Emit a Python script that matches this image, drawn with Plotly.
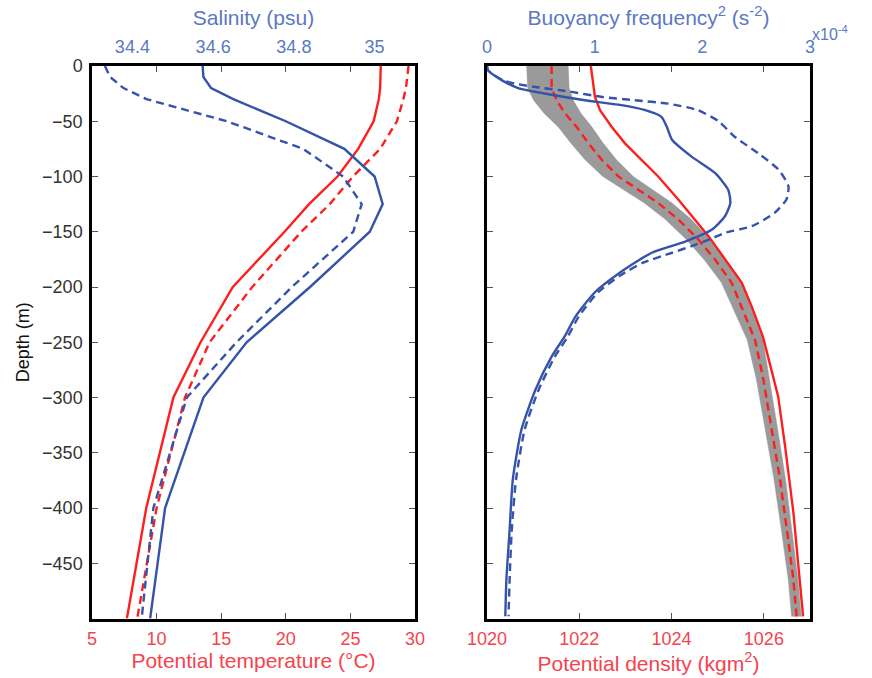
import plotly.graph_objects as go

# ---------------- Left panel: temperature & salinity profiles ----------------
std_depth = [0, -10, -20, -30, -50, -75, -100, -125, -150, -200, -250, -300, -400, -500]

temp_solid = [27.35, 27.35, 27.3, 27.2, 26.8, 25.6, 24.0, 21.8, 19.9, 15.9, 13.4, 11.3, 9.2, 7.7]
temp_dashed = [29.5, 29.4, 29.3, 29.1, 28.6, 27.3, 25.2, 23.4, 21.2, 17.4, 14.1, 12.2, 10.0, 8.5]

sal_solid = [34.574, 34.576, 34.595, 34.65, 34.78, 34.925, 35.0, 35.02, 34.988, 34.84, 34.683,
             34.576, 34.481, 34.444]
sal_dashed = [34.332, 34.345, 34.378, 34.435, 34.634, 34.823, 34.922, 34.968, 34.947, 34.795,
              34.658, 34.535, 34.452, 34.423]

# ---------------- Right panel: density & buoyancy frequency ----------------
rho_solid_depth = [0, -13, -28, -40, -55, -70, -85, -100, -121, -139, -154, -175, -196, -218,
                   -245, -299, -344, -404, -450, -498]
rho_solid = [1022.25, 1022.29, 1022.34, 1022.45, 1022.70, 1022.99, 1023.35, 1023.71, 1024.15,
             1024.51, 1024.80, 1025.16, 1025.52, 1025.74, 1025.98, 1026.31, 1026.46, 1026.64,
             1026.75, 1026.85]

rho_dashed_depth = [0, -20, -31, -43, -55, -70, -85, -100, -124, -139, -157, -175, -196, -218,
                    -248, -284, -329, -374, -420, -465, -498]
rho_dashed = [1021.40, 1021.40, 1021.51, 1021.69, 1021.94, 1022.20, 1022.49, 1022.85, 1023.71,
              1024.15, 1024.58, 1024.94, 1025.30, 1025.52, 1025.81, 1025.99, 1026.17, 1026.35,
              1026.50, 1026.64, 1026.71]
rho_band_lo = [1020.86, 1020.88, 1021.01, 1021.24, 1021.54, 1021.82, 1022.13, 1022.51, 1023.41,
               1023.87, 1024.32, 1024.70, 1025.08, 1025.32, 1025.64, 1025.84, 1026.03, 1026.22,
               1026.38, 1026.53, 1026.60]
rho_band_hi = [1021.76, 1021.78, 1021.87, 1022.04, 1022.27, 1022.52, 1022.81, 1023.17, 1024.01,
               1024.43, 1024.84, 1025.18, 1025.52, 1025.72, 1025.98, 1026.13, 1026.30, 1026.47,
               1026.61, 1026.74, 1026.81]

n2_solid_depth = [0, -4, -13, -20, -26, -31, -35, -40, -46, -55, -67, -82, -97, -112, -124, -136,
                  -148, -159, -169, -188, -205, -227, -245, -263, -293, -329, -374, -420, -465, -498]
n2_solid = [0.0, 0.01, 0.14, 0.29, 0.60, 0.91, 1.22, 1.47, 1.62, 1.67, 1.72, 1.90, 2.12, 2.24,
            2.26, 2.21, 2.09, 1.84, 1.53, 1.22, 1.00, 0.82, 0.72, 0.60, 0.45, 0.32, 0.24, 0.21,
            0.18, 0.17]

n2_dashed_depth = [0, -4, -13, -16, -19, -23, -28, -31, -34, -40, -50, -64, -79, -94, -109, -121,
                   -133, -145, -151, -156, -163, -169, -178, -190, -205, -227, -245, -263, -293,
                   -329, -374, -420, -465, -498]
n2_dashed = [0.0, 0.01, 0.15, 0.26, 0.45, 0.76, 1.07, 1.37, 1.68, 1.96, 2.15, 2.30, 2.52, 2.71,
             2.80, 2.78, 2.67, 2.46, 2.21, 2.09, 1.90, 1.72, 1.45, 1.23, 1.03, 0.85, 0.75, 0.63,
             0.48, 0.35, 0.27, 0.23, 0.21, 0.20]

depth_ticks = [0, -50, -100, -150, -200, -250, -300, -350, -400, -450]
temp_ticks = [5, 10, 15, 20, 25, 30]
sal_ticks = [34.4, 34.6, 34.8, 35.0]
sal_tick_text = ["34.4", "34.6", "34.8", "35"]
rho_ticks = [1020, 1022, 1024, 1026]
n2_ticks = [0, 1, 2, 3]

# ---------------- styling ----------------
RED = "#ff1e1e"
BLUE = "#3553aa"
RED_TXT = "#f5434d"
BLUE_TXT = "#5a78c4"
GREY = "#9a9a9a"
FONT = "Liberation Sans"
LW = 2.4
DASH = "8px,5px"

W, H = 872, 678
left_dom = [92 / W, 415 / W]
right_dom = [487 / W, 810 / W]
y_dom = [(H - 618.5) / H, (H - 66) / H]

fig = go.Figure()

# left panel
fig.add_trace(go.Scatter(x=temp_solid, y=std_depth, mode="lines", xaxis="x", yaxis="y",
                         line=dict(color=RED, width=LW)))
fig.add_trace(go.Scatter(x=temp_dashed, y=std_depth, mode="lines", xaxis="x", yaxis="y",
                         line=dict(color=RED, width=LW, dash=DASH)))
fig.add_trace(go.Scatter(x=sal_solid, y=std_depth, mode="lines", xaxis="x2", yaxis="y",
                         line=dict(color=BLUE, width=LW)))
fig.add_trace(go.Scatter(x=sal_dashed, y=std_depth, mode="lines", xaxis="x2", yaxis="y",
                         line=dict(color=BLUE, width=LW, dash=DASH)))

# right panel: density spread band
band_x = rho_band_lo + rho_band_hi[::-1]
band_y = rho_dashed_depth + rho_dashed_depth[::-1]
fig.add_trace(go.Scatter(x=band_x, y=band_y, mode="lines", fill="toself", fillcolor=GREY,
                         line=dict(color=GREY, width=0.5), xaxis="x3", yaxis="y2"))
fig.add_trace(go.Scatter(x=rho_solid, y=rho_solid_depth, mode="lines", xaxis="x3", yaxis="y2",
                         line=dict(color=RED, width=LW)))
fig.add_trace(go.Scatter(x=rho_dashed, y=rho_dashed_depth, mode="lines", xaxis="x3", yaxis="y2",
                         line=dict(color=RED, width=LW, dash=DASH)))
fig.add_trace(go.Scatter(x=n2_solid, y=n2_solid_depth, mode="lines", xaxis="x4", yaxis="y2",
                         line=dict(color=BLUE, width=LW, shape="spline", smoothing=0.6)))
fig.add_trace(go.Scatter(x=n2_dashed, y=n2_dashed_depth, mode="lines", xaxis="x4", yaxis="y2",
                         line=dict(color=BLUE, width=LW, dash=DASH, shape="spline", smoothing=0.6)))

frame = dict(showline=True, linecolor="black", linewidth=2.5, showgrid=False, zeroline=False,
             ticks="inside", ticklen=6, tickwidth=1, tickcolor="#555555", mirror="ticks",
             automargin=False)
top_axis = dict(showline=False, showgrid=False, zeroline=False, ticks="", side="top",
                automargin=False, ticklabelstandoff=8)

tick_font = dict(family=FONT, size=18)
title_font = dict(family=FONT, size=21)

fig.update_layout(
    width=W, height=H,
    margin=dict(l=0, r=0, t=0, b=0),
    paper_bgcolor="white", plot_bgcolor="white",
    showlegend=False,
    font=dict(family=FONT),
    xaxis=dict(**frame, domain=left_dom, anchor="y", range=[5, 30], tickvals=temp_ticks,
               tickfont=dict(**tick_font, color=RED_TXT), ticklabelstandoff=2,
               title=dict(text="Potential temperature (°C)", font=dict(**title_font, color=RED_TXT),
                          standoff=6)),
    xaxis2=dict(**top_axis, overlaying="x", anchor="y", range=[34.3, 35.1], tickvals=sal_ticks,
                ticktext=sal_tick_text, tickfont=dict(**tick_font, color=BLUE_TXT),
                title=dict(text="Salinity (psu)", font=dict(**title_font, color=BLUE_TXT),
                           standoff=6)),
    yaxis=dict(**frame, domain=y_dom, anchor="x", range=[-500, 0], tickvals=depth_ticks,
               tickfont=dict(**tick_font, color="#333333"), ticklabelstandoff=3,
               title=dict(text="Depth (m)", font=dict(family=FONT, size=18, color="#111111"),
                          standoff=8)),
    xaxis3=dict(**frame, domain=right_dom, anchor="y2", range=[1020, 1027], tickvals=rho_ticks,
                tickfont=dict(**tick_font, color=RED_TXT), ticklabelstandoff=2,
                title=dict(text="Potential density (kgm<sup>2</sup>)",
                           font=dict(**title_font, color=RED_TXT), standoff=6)),
    xaxis4=dict(**top_axis, overlaying="x3", anchor="y2", range=[0, 3], tickvals=n2_ticks,
                tickfont=dict(**tick_font, color=BLUE_TXT),
                title=dict(text="Buoyancy frequency<sup>2</sup> (s<sup>-2</sup>)",
                           font=dict(**title_font, color=BLUE_TXT), standoff=6)),
    yaxis2=dict(**frame, domain=y_dom, anchor="x3", range=[-500, 0], tickvals=depth_ticks,
                showticklabels=False),
    annotations=[dict(text="x10<sup>-4</sup>", xref="paper", yref="paper", x=830 / W,
                      y=1 - 33 / H, xanchor="center", yanchor="middle", showarrow=False,
                      font=dict(family=FONT, size=16, color=BLUE_TXT))],
)

fig.write_html("out.html")
